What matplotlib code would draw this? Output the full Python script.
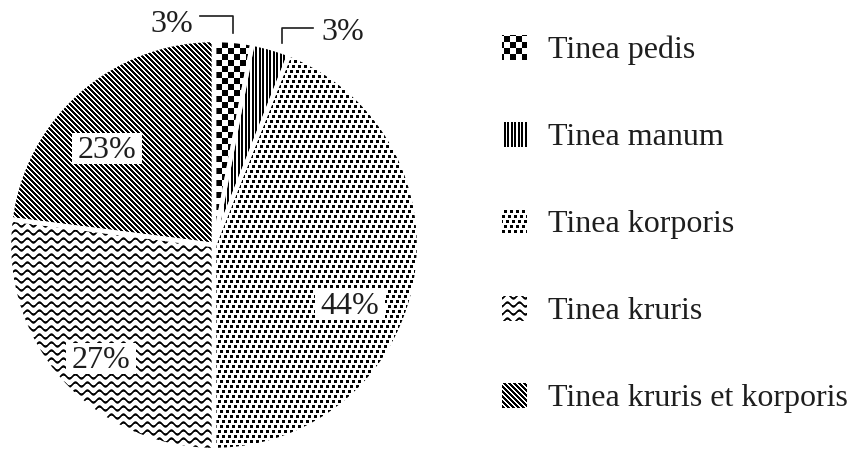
"""Pie chart of tinea cases by type, black-and-white textured slices."""

import numpy as np
import matplotlib
matplotlib.use("Agg")
import matplotlib.pyplot as plt
from matplotlib.patches import Rectangle

W, H = 854, 454

categories = ["Tinea pedis", "Tinea manum", "Tinea korporis",
              "Tinea kruris", "Tinea kruris et korporis"]
values = [3, 3, 44, 27, 23]
textures = ["checker", "vertical", "dots", "wavy", "diagonal"]

# label positions in image pixels (x, y from top)
label_pos = [(172, 22), (343, 29), (350, 303), (101, 358), (107, 148)]
boxed = [False, False, True, True, True]

plt.rcParams["font.family"] = ["Liberation Serif", "DejaVu Serif"]
TEXT = "#1e1e1e"
FS = 23


def make_texture(kind):
    """Return a darkness array (1 = black) covering the whole figure."""
    yy, xx = np.mgrid[0:H, 0:W]
    if kind == "checker":
        return ((xx // 6 + yy // 6) % 2 == 0).astype(float)
    if kind == "vertical":
        return np.isin(xx % 7, [0, 1, 3, 4]).astype(float)
    if kind == "diagonal":
        return ((xx - yy) % 5 < 3).astype(float)
    if kind == "dots":
        row = yy // 5
        shifted = (xx + 2 * row) % 6
        return ((shifted < 3) & (yy % 5 < 3)).astype(float)
    if kind == "wavy":
        wave = yy + 2.0 * np.sin(2 * np.pi * xx / 12.0)
        d = np.abs(((wave + 4) % 8) - 4)
        return np.clip(1.7 - d, 0, 1)
    return np.zeros((H, W))


def px(x, y):
    return x, H - y


fig = plt.figure(figsize=(W / 100, H / 100), dpi=100)
ax = fig.add_axes([0, 0, 1, 1])

cx, cy = px(214, 245)
wedges, _ = ax.pie(values, center=(cx, cy), radius=205, startangle=90,
                   counterclock=False,
                   wedgeprops=dict(edgecolor="white", linewidth=3.2))

for wedge, kind in zip(wedges, textures):
    img = make_texture(kind)
    wedge.set_facecolor("none")
    wedge.set_zorder(2)
    im = ax.imshow(img, cmap="gray_r", vmin=0, vmax=1, extent=(0, W, 0, H),
                   origin="upper", interpolation="nearest", zorder=1)
    im.set_clip_path(wedge)

# percent labels
for (x, y), v, box in zip(label_pos, values, boxed):
    if box:
        bx, by = px(x - 35, y + 15.5)
        ax.add_patch(Rectangle((bx, by), 70, 31, facecolor="white",
                               edgecolor="none", zorder=3))
    ax.text(*px(x, y + 10.5), f"{v}%", ha="center", va="baseline",
            fontsize=FS, color=TEXT, zorder=4)

# leader lines for the two small slices
ax.plot(*zip(px(200, 16), px(233, 16), px(233, 33)), color=TEXT, lw=1.2,
        zorder=4)
ax.plot(*zip(px(282, 43), px(282, 28), px(313, 28)), color=TEXT, lw=1.2,
        zorder=4)

# legend
for i, (name, kind) in enumerate(zip(categories, textures)):
    yc = 47 + 87 * i
    x0, y0 = px(502, yc + 13)
    sq = Rectangle((x0, y0), 25, 25, facecolor="none", edgecolor="none")
    ax.add_patch(sq)
    im = ax.imshow(make_texture(kind), cmap="gray_r", vmin=0, vmax=1,
                   extent=(0, W, 0, H), origin="upper",
                   interpolation="nearest", zorder=1)
    im.set_clip_path(sq)
    ax.text(*px(548, yc + 11), name, ha="left", va="baseline",
            fontsize=FS, color=TEXT)

ax.set_xlim(0, W)
ax.set_ylim(0, H)
ax.axis("off")

fig.savefig("out.png", dpi=100)
